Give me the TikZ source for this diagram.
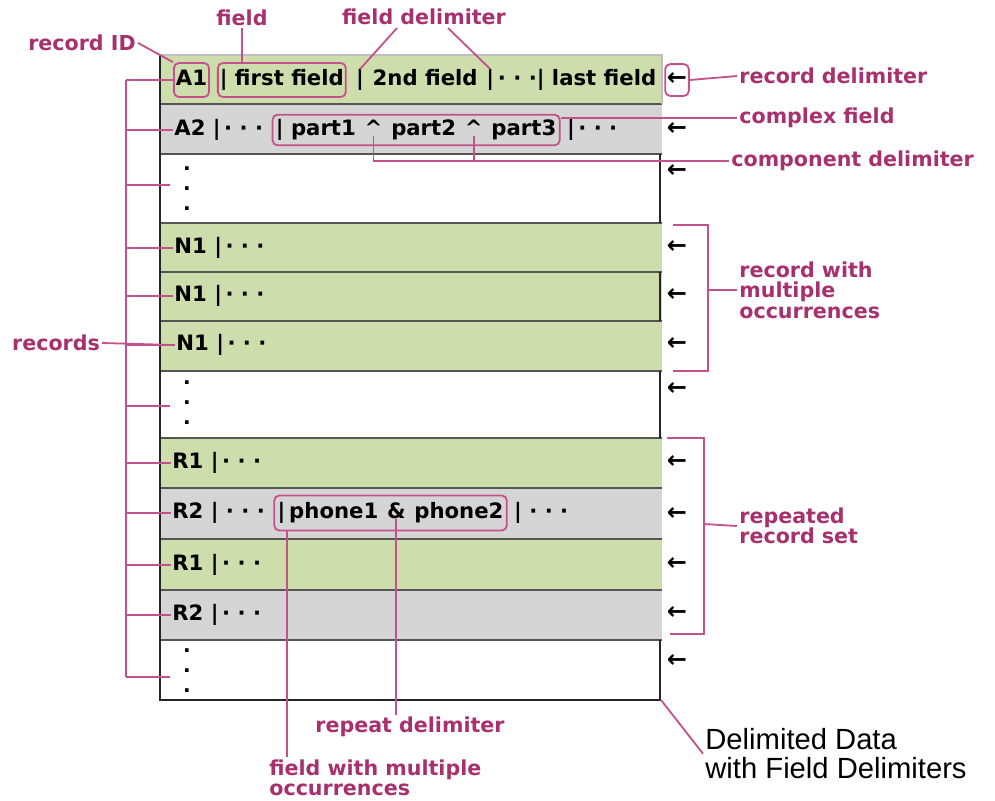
\documentclass[tikz,border=0pt]{standalone}
\usepackage{fontspec}
\setmainfont{DejaVu Sans}
\newfontfamily\arialfont{Liberation Sans}
\usetikzlibrary{positioning,fit}
\definecolor{Plum}{HTML}{A8306E}
\definecolor{PinkLine}{HTML}{C4508C}
\definecolor{RowGreen}{HTML}{CEDDAC}
\definecolor{RowGray}{HTML}{D5D5D5}
\definecolor{SepGray}{HTML}{555555}
\newcommand\cellfont{\fontsize{10.6}{12}\selectfont\bfseries}
\newcommand\notefont{\fontsize{10.3}{10.3}\selectfont\bfseries}
\tikzset{
  cell/.style={font=\cellfont,inner sep=.5pt,text height=7.5pt,text depth=2pt},
  idbox/.style={cell,draw=PinkLine,line width=.9pt,rounded corners=2.5pt,inner xsep=1pt,minimum height=17pt},
  fbox/.style={draw=PinkLine,line width=.9pt,rounded corners=2.5pt},
  vdots/.style={font=\fontsize{10}{10}\selectfont\bfseries,align=center,inner sep=0pt},
  arr/.style={cell,font=\fontsize{12}{12}\selectfont\bfseries},
  note/.style={font=\notefont,text=Plum,align=left,inner sep=1pt},
  title/.style={font=\arialfont\fontsize{14.6}{14.6}\selectfont,align=left,inner sep=1pt},
  link/.style={draw=PinkLine,line width=.9pt},
  sep/.style={draw=SepGray,line width=1pt},
  edge/.style={draw=black!85,line width=1pt},
}
\begin{document}
\begin{tikzpicture}[x=.5pt,y=-.5pt]
\useasboundingbox (0,0) rectangle (995,800);
\foreach \t/\b/\c in {55/104/RowGreen,104/154/RowGray,154/223/white,223/272/RowGreen,272/321/RowGreen,321/371/RowGreen,371/438/white,438/488/RowGreen,488/539/RowGray,539/590/RowGreen,590/640/RowGray,640/700/white}
  \fill[\c] (160,\t) rectangle (662,\b);
\foreach \y in {104,154,223,272,321,371,438,488,539,590,640}
  \draw[sep] (160,\y) -- (662,\y);
\foreach \t/\b in {154/223,272/321,371/438,640/700}
  \draw[edge] (660,\t) -- (660,\b);
\draw[gray!50,line width=.8pt] (160,55) -- (662,55) -- (662,104);
\draw[edge] (160,55) -- (160,700) -- (661,700);
\coordinate (tbl-se) at (661,700);

\node[idbox,anchor=west] (a1) at (173,80) {A1};
\node[idbox,right=3.5pt of a1] (f1) {| first field};
\node[cell,right=4pt of f1] (bar1) {|};
\node[cell,right=3pt of bar1] (f2) {2nd field};
\node[cell,right=3pt of f2] (bar2) {|};
\node[cell,right=.5pt of bar2] (f3) {· · ·| last field};

\node[cell,anchor=west] (a2) at (173,130) {A2 |\,· · ·};
\node[cell,right=5pt of a2] (p1) {| part1};
\node[cell,right=3pt of p1] (c1) {\textasciicircum};
\node[cell,right=3pt of c1] (p2) {part2};
\node[cell,right=3pt of p2] (c2) {\textasciicircum};
\node[cell,right=3pt of c2] (p3) {part3};
\node[fbox,fit=(p1)(p3),inner xsep=1pt,inner ysep=2.2pt] (cf) {};
\node[cell,right=4pt of p3] (a2r) {|\,· · ·};

\node[vdots] (v1) at (187,189) {.\\.\\.};
\node[cell,anchor=west] (n1a) at (173,248) {N1 |\,· · ·};
\node[cell,anchor=west] (n1b) at (173,296) {N1 |\,· · ·};
\node[cell,anchor=west] (n1c) at (175,345) {N1 |\,· · ·};
\node[vdots] (v2) at (187,403) {.\\.\\.};

\node[cell,anchor=west] (r1a) at (171,463) {R1 |\,· · ·};
\node[cell,anchor=west] (r2a) at (171,513) {R2 | · · ·};
\node[cell,right=5pt of r2a] (phbar) {|};
\node[cell,right=.5pt of phbar] (ph1) {phone1};
\node[cell,right=3pt of ph1] (amp) {\&};
\node[cell,right=3pt of amp] (ph2) {phone2};
\node[fbox,fit=(phbar)(ph2),inner xsep=1pt,inner ysep=3.3pt] (ph) {};
\node[cell,right=4pt of ph2] (r2r) {| · · ·};
\node[cell,anchor=west] (r1b) at (171,565) {R1 |\,· · ·};
\node[cell,anchor=west] (r2b) at (171,615) {R2 |\,· · ·};
\node[vdots] (v3) at (187,671) {.\\.\\.};

\foreach \y [count=\i] in {80,130,172,248,296,345,390,463,515,565,614,662}
  \node[arr] (ar\i) at (677,\y) {←};
\node[fbox,fit=(ar1),inner xsep=.2pt,inner ysep=2.5pt] (rdbox) {};

\node[note] (recid) at (82,43) {record ID};
\node[note] (fld) at (242,18) {field};
\node[note] (fdl) at (424,17) {field delimiter};
\node[note,anchor=west] (rdl) at (737,76) {record delimiter};
\node[note,anchor=west] (cfl) at (737,118) {complex field};
\node[note,anchor=west] (cdl) at (729,161) {component delimiter};
\node[note,anchor=west] (rmo) at (737,290) {record with\\multiple\\occurrences};
\node[note,anchor=west] (rrs) at (737,526) {repeated\\record set};
\node[note] (recs) at (56,343) {records};
\node[note] (rpd) at (410,727) {repeat delimiter};
\node[note,anchor=north west] (fwm) at (267,757) {field with multiple\\occurrences};
\node[title,anchor=north west] (ttl) at (703,726) {Delimited Data\\with Field Delimiters};

\coordinate (fd1) at (397,28);
\coordinate (fd2) at (448,28);
\draw[link] (recid.east) -- (a1.north west);
\draw[link] (fld.south) -- (fld.south |- f1.north);
\draw[link] (fd1) -- (bar1.north);
\draw[link] (fd2) -- (bar2.north);
\draw[link] (rdl.west) -- (rdbox.east);
\draw[link] (cfl.west) -- (cfl.west -| cf.east);
\draw[link] (c1.base) |- (cdl.west);
\draw[link] (c2.base) -- (c2.base |- cdl.west);
\draw[link] (amp.base) -- (amp.base |- rpd.north);
\draw[link] (phbar.east |- ph.south) -- (phbar.east |- fwm.north);
\draw[link] (tbl-se) -- (ttl.west);

\coordinate (rb-top) at (126,80);
\coordinate (rb-bot) at (126,677);
\draw[link] (rb-top) -- (rb-bot);
\foreach \n in {a1,a2,n1a,n1b,n1c,r1a,r2a,r1b,r2b}
  \draw[link] (\n.west) -- (\n.west -| rb-top);
\foreach \y [count=\i] in {185,406,677} {
  \coordinate (dt\i) at (170,\y);
  \draw[link] (dt\i) -- (dt\i -| rb-top);
}
\draw[link] (recs.east) -- (n1c.west);

\coordinate (mo-top) at (673,225);
\coordinate (mo-bot) at (673,371);
\coordinate (mo-mid) at (708,290);
\draw[link] (mo-top) -| (mo-mid) |- (mo-bot);
\draw[link] (mo-mid) -- (rmo.west);
\coordinate (rs-top) at (667,438);
\coordinate (rs-bot) at (670,634);
\coordinate (rs-mid) at (704,524);
\draw[link] (rs-top) -| (rs-mid) |- (rs-bot);
\draw[link] (rs-mid) -- (rrs.west);
\end{tikzpicture}
\end{document}
